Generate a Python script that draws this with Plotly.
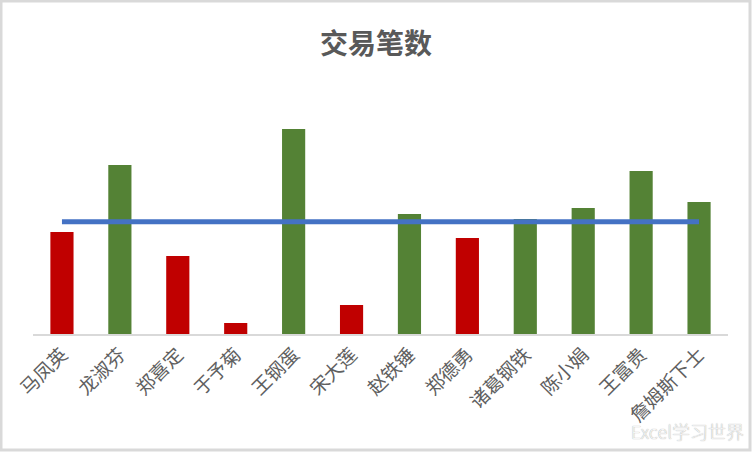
import plotly.graph_objects as go

# 交易笔数 per person (arbitrary units)
names = ["马凤英", "龙淑芬", "郑喜定", "于予菊", "王钢蛋", "宋大莲",
         "赵铁锤", "郑德勇", "诸葛钢铁", "陈小娟", "王富贵", "詹姆斯下士"]
trades = [102, 169, 78, 11, 205, 29, 120, 96, 115, 126, 163, 132]
average = sum(trades) / len(trades)

RED = "#C00000"
GREEN = "#548235"
BLUE = "#4472C4"
FONT = "Noto Sans CJK SC"

bar_colors = [RED if v < average else GREEN for v in trades]

fig = go.Figure()

fig.add_trace(go.Bar(
    x=names,
    y=trades,
    marker=dict(color=bar_colors, line=dict(width=0)),
    name="交易笔数",
    hoverinfo="x+y"
))

fig.add_trace(go.Scatter(
    x=names,
    y=[average] * len(names),
    mode="lines",
    line=dict(color=BLUE, width=5),
    name="平均值"
))

# chart border like the Excel chart area
fig.add_shape(
    type="rect", xref="paper", yref="paper",
    x0=-32 / 695, x1=1 + 22 / 695, y0=-116 / 254, y1=1 + 79 / 254,
    line=dict(color="#D9D9D9", width=3), fillcolor="rgba(0,0,0,0)",
    layer="below"
)

# watermark
fig.add_annotation(
    text="Excel学习世界", xref="paper", yref="paper",
    x=1 + 18 / 695, y=-116 / 254 + 4 / 254, xanchor="right", yanchor="bottom",
    showarrow=False,
    font=dict(family=FONT, size=18, weight=300, color="#F6F6F6",
              shadow="0px 0px 1px #8c8c8c")
)

fig.update_layout(
    width=752,
    height=452,
    margin=dict(l=33, r=24, t=80, b=118, autoexpand=False),
    paper_bgcolor="white",
    plot_bgcolor="white",
    showlegend=False,
    bargap=0.6,
    title=dict(
        text="<b>交易笔数</b>",
        x=0.5, xanchor="center",
        y=1 - 44 / 452, yanchor="middle",
        font=dict(family=FONT, size=28, color="#595959")
    ),
    font=dict(family=FONT, color="#595959")
)

fig.update_xaxes(
    tickangle=-45,
    automargin=False,
    tickfont=dict(family=FONT, size=19, color="#606060"),
    showline=True, linecolor="#D9D9D9", linewidth=2,
    ticks="", showgrid=False
)
fig.update_yaxes(
    range=[0, 254],
    visible=False,
    automargin=False,
    showgrid=False, zeroline=False
)

# drop the default page margin so the chart sits at the window's corner
fig.write_html("out.html", config={"displayModeBar": False},
               post_script="document.body.style.margin='0';")
